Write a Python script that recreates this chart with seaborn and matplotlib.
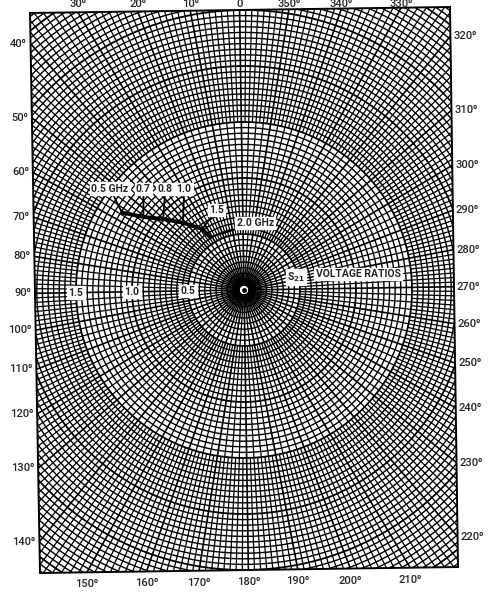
import numpy as np
import matplotlib
matplotlib.use("Agg")
import matplotlib.pyplot as plt
import seaborn as sns
from matplotlib.patches import Polygon

# S21 transmission (magnitude = voltage ratio, angle in degrees)
freq_labels = ["0.5 GHz", "0.7", "0.8", "1.0", "1.5", "2.0 GHz"]
s21_mag = [1.29, 1.11, 0.96, 0.81, 0.66, 0.56]
s21_ang = [56.7, 53.1, 47.8, 41.3, 33.5, 31.7]
# where each label box sits relative to its point (pixels)
label_offsets = [(-12, 24), (0, 28), (2, 30), (1, 34), (14, 19), (45, 14)]

ratio_ticks = [0.5, 1.0, 1.5]
angle_ticks = list(range(0, 360, 10))

# page geometry (pixels, origin top-left)
W, H = 490, 592
CX, CY = 244, 290
PX_PER_UNIT = 112
RMAX = 3.2
TILT = 0.9  # the scan is turned a little
corners = [(30, 13), (450, 7), (458, 567), (40, 573)]

sns.set_style("white")
plt.rcParams["font.family"] = ["Roboto", "DejaVu Sans"]

fig = plt.figure(figsize=(W / 100, H / 100), dpi=100)
R = RMAX * PX_PER_UNIT
ax = fig.add_axes([(CX - R) / W, (H - CY - R) / H, 2 * R / W, 2 * R / H],
                  projection="polar")
ax.set_theta_zero_location("N", offset=TILT)
ax.set_theta_direction(1)
ax.patch.set_visible(False)
ax.spines["polar"].set_visible(False)
ax.grid(False)
ax.set_xticks([])
ax.set_yticks([])

# circles every 0.05
th = np.linspace(0, 2 * np.pi, 1441)
for i in range(1, int(RMAX / 0.05) + 1):
    r = i * 0.05
    lw = 1.3 if i % 10 == 0 else 1.0
    ax.plot(th, np.full_like(th, r), color="k", lw=lw)

# radial lines, denser further out
for k in range(288):
    a = k * 1.25
    if k % 8 == 0:
        r0, lw = 0.04, 1.2
    elif k % 4 == 0:
        r0, lw = 0.04, 0.9
    elif k % 2 == 0:
        r0, lw = 0.5, 0.9
    else:
        r0, lw = 1.5, 0.9
    ax.vlines(np.radians(a), r0, RMAX, colors="k", lw=lw)

ax.plot([0], [0], "o", color="k", ms=2.5)

# the measured curve
sns.lineplot(x=np.radians(s21_ang), y=s21_mag, ax=ax, sort=False,
             color="k", lw=2.8, estimator=None)

ax.set_ylim(0, RMAX)

quad = Polygon([(x / W, 1 - y / H) for x, y in corners], closed=True,
               transform=fig.transFigure, fill=False, ec="k", lw=1.4)
for art in ax.lines + list(ax.collections):
    art.set_clip_path(quad)
fig.add_artist(quad)

box = dict(boxstyle="square,pad=0.12", fc="white", ec="white")
bold = dict(fontsize=7.5, fontweight="bold", ha="center", va="center")

for lab, m, a, off in zip(freq_labels, s21_mag, s21_ang, label_offsets):
    ax.annotate(lab, xy=(np.radians(a), m), xytext=off,
                textcoords="offset pixels", bbox=box, zorder=5,
                arrowprops=dict(arrowstyle="-", color="k", lw=1.3,
                                shrinkA=0, shrinkB=0), **bold)

for r in ratio_ticks:
    ax.text(np.radians(90), r, f"{r:.1f}", bbox=box, zorder=5, **bold)

fig.text(296 / W, 1 - 277 / H, "S$_{\\mathbf{21}}$", bbox=box, **bold)
fig.text(358 / W, 1 - 274 / H, "VOLTAGE RATIOS", bbox=box, **bold)


# angle labels outside the frame
def edge_hit(angle):
    phi = np.radians(angle + TILT)
    d = np.array([-np.sin(phi), -np.cos(phi)])
    c = np.array([CX, CY], float)
    best = None
    for j in range(4):
        p = np.array(corners[j], float)
        q = np.array(corners[(j + 1) % 4], float)
        e = q - p
        m = np.array([[d[0], -e[0]], [d[1], -e[1]]])
        t, s = np.linalg.solve(m, p - c)
        if t > 0 and 0 <= s <= 1 and (best is None or t < best[0]):
            best = (t, j)
    t, j = best
    return c + t * d, j


for a in angle_ticks:
    (x, y), side = edge_hit(a)
    txt = "0" if a == 0 else f"{a}\u2070"
    kw = dict(fontsize=8, fontweight="medium", va="center")
    if side == 0:
        fig.text(x / W, 1 - 4 / H, txt, ha="center", **kw)
    elif side == 1:
        fig.text((x + 3) / W, 1 - y / H, txt, ha="left", **kw)
    elif side == 2:
        fig.text(x / W, 1 - (y + 12) / H, txt, ha="center", **kw)
    else:
        fig.text((x - 4) / W, 1 - y / H, txt, ha="right", **kw)

fig.savefig("out.png", dpi=100, facecolor="white")
